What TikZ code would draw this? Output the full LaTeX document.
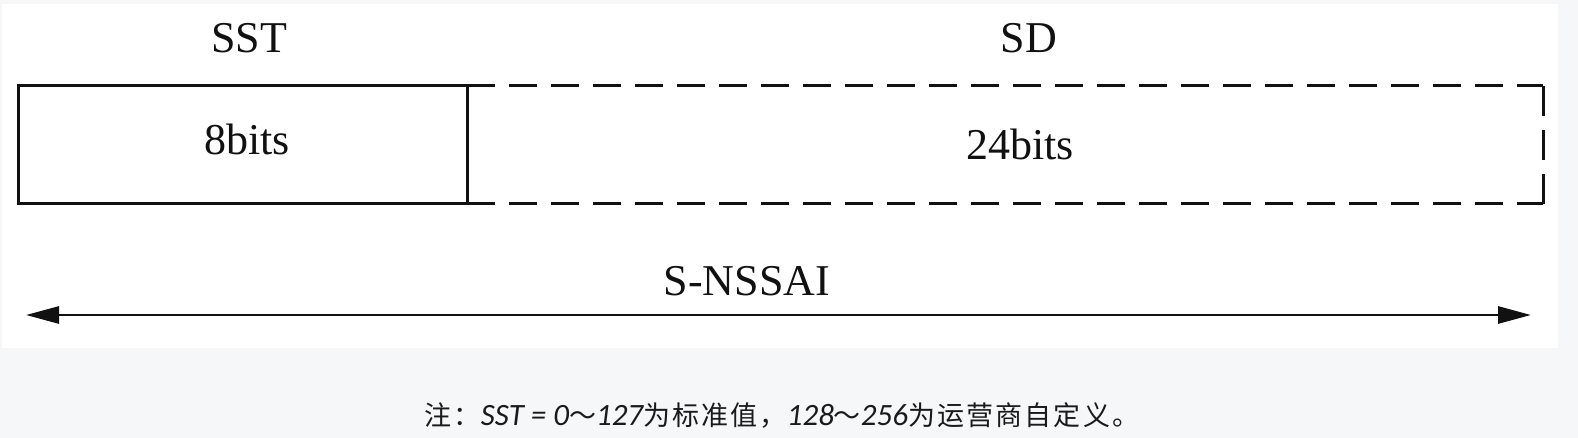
\documentclass[tikz,border=0pt]{standalone}
\usepackage{fontspec}
\setmainfont{Liberation Serif}
\newfontfamily\cjk{Noto Sans CJK SC}[LetterSpace=8]
\newfontfamily\capit{Carlito}
\usetikzlibrary{arrows.meta}
\definecolor{pagegray}{HTML}{F6F7F9}
\definecolor{ink}{HTML}{111111}
\definecolor{capink}{HTML}{1A1A1A}
\tikzset{
  lbl/.style={inner sep=0pt, anchor=base, text=ink, font=\fontsize{44}{52}\selectfont},
  solidbox/.style={draw=ink, line width=3pt, line join=miter},
  dashline/.style={draw=ink, line width=3pt, dash pattern=on 28pt off 14pt},
  sideline/.style={draw=ink, line width=3pt, dash pattern=on 30pt off 14pt},
  spanarrow/.style={draw=ink, line width=2.8pt, {Triangle[length=33pt,width=17pt]}-{Triangle[length=33pt,width=17pt]}},
  caption/.style={inner sep=0pt, anchor=base, text=capink}
}
\begin{document}
\begin{tikzpicture}[x=1pt,y=-1pt]
  \useasboundingbox (0,0) rectangle (1578,438);
  \fill[pagegray] (0,0) rectangle (1578,438);
  \fill[white] (2,4) rectangle (1558,348);
  % corner coordinates
  \coordinate (tl) at (18,86);
  \coordinate (dt) at (467,86);
  \coordinate (db) at (467,204);
  \coordinate (tr) at (1543,86);
  \coordinate (br) at (1543,204);
  \coordinate (la) at (26,315);
  \coordinate (ra) at (1531,315);
  % dashed SD field
  \draw[dashline] (dt) -- (tr);
  \draw[dashline] (db) -- (br);
  \draw[sideline] (tr) -- (br);
  % solid SST field
  \draw[solidbox] (tl) rectangle (db);
  % labels
  \node[lbl] (sst) at (249,53) {SST};
  \node[lbl] (sd) at (1029,53) {SD};
  \node[lbl] (b8) at (247,155) {8bits};
  \node[lbl] (b24) at (1020,160) {24bits};
  \node[lbl] (nssai) at (747,295) {S-NSSAI};
  % span arrow
  \draw[spanarrow] (la) -- (ra);
  % caption
  \node[caption] (cap) at (782,425) {{\fontsize{27}{32}\selectfont\cjk 注：}{\fontsize{31}{36}\selectfont\capit\itshape SST = 0}{\fontsize{27}{32}\selectfont\cjk ～}{\fontsize{31}{36}\selectfont\capit\itshape 127}{\fontsize{27}{32}\selectfont\cjk 为标准值，}{\fontsize{31}{36}\selectfont\capit\itshape 128}{\fontsize{27}{32}\selectfont\cjk ～}{\fontsize{31}{36}\selectfont\capit\itshape 256}{\fontsize{27}{32}\selectfont\cjk 为运营商自定义。}};
\end{tikzpicture}
\end{document}
